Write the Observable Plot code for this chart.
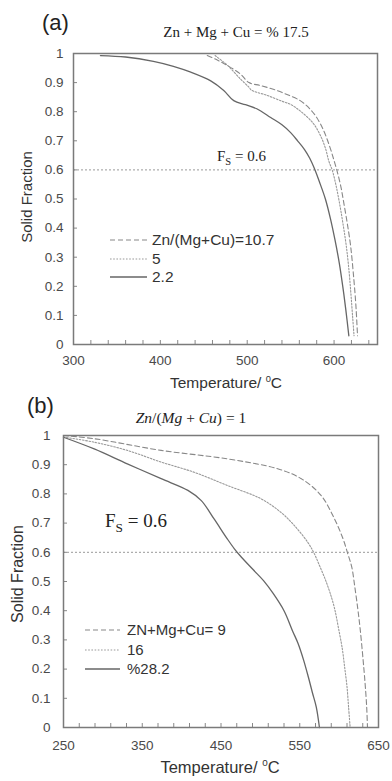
<!DOCTYPE html>
<html><head><meta charset="utf-8">
<script src="https://cdn.jsdelivr.net/npm/d3@7"></script>
<script src="https://cdn.jsdelivr.net/npm/@observablehq/plot@0.6"></script>
<style>
body{margin:0;background:#fff;}
#wrap{position:relative;width:392px;height:781px;overflow:hidden;background:#fff;font-family:"Liberation Sans",Arial,sans-serif;color:#333;}
.abs{position:absolute;white-space:nowrap;line-height:1.15;}
.serif{font-family:"Liberation Serif","DejaVu Serif",serif;}
</style></head><body><div id="wrap"></div>
<script>
// ---------- data: panel (a)  Zn+Mg+Cu = %17.5 ----------
const panelATitle = "Zn + Mg + Cu = % 17.5";
const legendA = ["Zn/(Mg+Cu)=10.7", "5", "2.2"];
const aDashT = [454, 466, 477, 492, 502, 515, 530, 545, 561, 572, 580, 588, 595, 600, 604, 608, 611, 615, 619, 622, 625, 627];
const aDashF = [0.993, 0.977, 0.959, 0.93, 0.90, 0.89, 0.877, 0.86, 0.838, 0.81, 0.78, 0.735, 0.68, 0.632, 0.59, 0.54, 0.49, 0.42, 0.34, 0.25, 0.14, 0.03];
const aDotT = [463, 477, 492, 502, 505, 523, 540, 550, 562, 576, 584, 590, 594, 598, 602, 606, 610, 614, 617, 619.5, 621.5, 623];
const aDotF = [0.993, 0.96, 0.913, 0.884, 0.874, 0.856, 0.836, 0.825, 0.8, 0.76, 0.72, 0.675, 0.63, 0.598, 0.55, 0.49, 0.42, 0.34, 0.26, 0.17, 0.09, 0.03];
const aSolT = [331, 360, 392, 415, 435, 458, 473, 484.5, 498, 511, 527, 540, 550, 558, 566, 572, 577, 583, 590, 596, 601, 606, 610, 613.5, 617];
const aSolF = [0.993, 0.988, 0.973, 0.956, 0.936, 0.906, 0.873, 0.838, 0.824, 0.81, 0.78, 0.755, 0.728, 0.70, 0.67, 0.64, 0.607, 0.56, 0.50, 0.43, 0.36, 0.28, 0.20, 0.12, 0.03];
const aXTicks = [300, 400, 500, 600];
const aXMinor = d3.range(300, 651, 20);

// ---------- data: panel (b)  Zn/(Mg+Cu) = 1 ----------
const legendB = ["ZN+Mg+Cu= 9", "16", "%28.2"];
const bDashT = [250, 289, 374, 458, 522, 552, 577, 594, 605, 611, 616, 620, 624, 627, 630.5, 633, 635, 636];
const bDashF = [1.0, 0.989, 0.949, 0.920, 0.886, 0.852, 0.795, 0.715, 0.646, 0.595, 0.55, 0.48, 0.40, 0.33, 0.23, 0.15, 0.07, 0.0];
const bDotT = [250, 289, 331, 374, 416, 458, 501, 526, 543, 560, 568, 575, 582, 588, 594, 599, 604, 607, 610, 612, 614];
const bDotF = [0.995, 0.977, 0.949, 0.909, 0.874, 0.829, 0.783, 0.737, 0.692, 0.635, 0.598, 0.555, 0.51, 0.465, 0.41, 0.343, 0.27, 0.207, 0.14, 0.07, 0.0];
const bSolT = [250, 289, 331, 374, 408, 425, 441, 458, 467, 476, 491, 504, 516, 530, 541, 548, 555, 561, 566, 571, 575];
const bSolF = [0.994, 0.954, 0.903, 0.852, 0.812, 0.777, 0.715, 0.646, 0.612, 0.583, 0.54, 0.503, 0.46, 0.40, 0.33, 0.287, 0.23, 0.172, 0.12, 0.07, 0.0];
const bXTicks = [250, 350, 450, 550, 650];
const bXMinor = d3.range(250, 651, 20);

const yTicks = [0, 0.1, 0.2, 0.3, 0.4, 0.5, 0.6, 0.7, 0.8, 0.9, 1];
const FS = 0.6;

// ---------- styles ----------
const STY = {
  dash: {stroke: "#888", strokeWidth: 1.1, strokeDasharray: "5,3"},
  dot:  {stroke: "#999", strokeWidth: 1.1, strokeDasharray: "1.6,1.6"},
  sol:  {stroke: "#666", strokeWidth: 1.3}
};

const rows = (T, F) => T.map((t, i) => ({t, f: F[i]}));

function panel({xDomain, xTicks, xMinor, series, height, margins, xPad, yPad}) {
  return Plot.plot({
    width: 392, height,
    marginTop: margins[0], marginRight: margins[1], marginBottom: margins[2], marginLeft: margins[3],
    style: {fontFamily: "'Liberation Sans', Arial, sans-serif", fontSize: "13.5px", color: "#4a4a4a", background: "transparent", overflow: "visible"},
    x: {domain: xDomain},
    y: {domain: [0, 1]},
    marks: [
      Plot.ruleY([FS], {stroke: "#999", strokeWidth: 1, strokeDasharray: "2,2"}),
      ...series.map(([T, F, s]) => Plot.line(rows(T, F), {x: "t", y: "f", curve: "catmull-rom", ...STY[s]})),
      Plot.axisX({ticks: xMinor, tickSize: 4, dy: -4, tickFormat: () => "", label: null, stroke: "#888"}),
      Plot.axisY({ticks: yTicks, tickSize: 4, dx: 4, tickFormat: () => "", label: null, stroke: "#888"}),
      Plot.axisX({ticks: xTicks, tickSize: 0, tickPadding: xPad, label: null, tickFormat: d => String(d)}),
      Plot.axisY({ticks: yTicks, tickSize: 0, tickPadding: yPad, label: null, tickFormat: d => String(+d.toFixed(1))}),
      Plot.frame({stroke: "#7a7a7a", strokeWidth: 1.5})
    ]
  });
}

const wrap = document.getElementById("wrap");

const chartA = panel({
  xDomain: [300, 650], xTicks: aXTicks, xMinor: aXMinor, height: 390,
  margins: [53, 15, 46, 73], xPad: 11, yPad: 10,
  series: [[aDashT, aDashF, "dash"], [aDotT, aDotF, "dot"], [aSolT, aSolF, "sol"]]
});
chartA.style.position = "absolute"; chartA.style.left = "0px"; chartA.style.top = "0px";
wrap.appendChild(chartA);

const chartB = panel({
  xDomain: [250, 650], xTicks: bXTicks, xMinor: bXMinor, height: 391,
  margins: [45, 14, 54, 63], xPad: 13, yPad: 13,
  series: [[bDashT, bDashF, "dash"], [bDotT, bDotF, "dot"], [bSolT, bSolF, "sol"]]
});
chartB.style.position = "absolute"; chartB.style.left = "0px"; chartB.style.top = "390px";
wrap.appendChild(chartB);

// ---------- text overlays ----------
function txt(html, x, y, {size = 14, anchor = "middle", cls = "", color = "#333", rotate = 0} = {}) {
  const d = document.createElement("div");
  d.className = "abs " + cls;
  d.innerHTML = html;
  d.style.fontSize = size + "px";
  d.style.color = color;
  d.style.left = x + "px";
  d.style.top = y + "px";
  const tx = anchor === "middle" ? "-50%" : "0";
  d.style.transform = `translate(${tx},-50%)` + (rotate ? ` rotate(${rotate}deg)` : "");
  wrap.appendChild(d);
  return d;
}
function legendLine(x1, x2, y, s) {
  const st = STY[s];
  const ns = "http://www.w3.org/2000/svg";
  const svg = document.createElementNS(ns, "svg");
  svg.setAttribute("width", x2 - x1); svg.setAttribute("height", 6);
  svg.style.position = "absolute"; svg.style.left = x1 + "px"; svg.style.top = (y - 3) + "px";
  const l = document.createElementNS(ns, "line");
  l.setAttribute("x1", 0); l.setAttribute("x2", x2 - x1); l.setAttribute("y1", 3); l.setAttribute("y2", 3);
  l.setAttribute("stroke", st.stroke); l.setAttribute("stroke-width", st.strokeWidth);
  if (st.strokeDasharray) l.setAttribute("stroke-dasharray", st.strokeDasharray);
  svg.appendChild(l);
  wrap.appendChild(svg);
}

// panel (a)
txt("(a)", 42, 23, {size: 22, anchor: "start", color: "#222"});
txt(panelATitle, 236, 33, {size: 15, cls: "serif", color: "#222"});
txt("Solid Fraction", 27, 197, {size: 15, rotate: -90});
txt("Temperature/ <sup style='font-size:0.6em'>0</sup>C", 226, 383, {size: 15.5});
txt("F<sub style='font-size:0.7em'>S</sub> = " + FS, 217, 158, {size: 15, anchor: "start", cls: "serif", color: "#222"});
["dash", "dot", "sol"].forEach((s, i) => {
  const y = [240, 259, 277][i];
  legendLine(110, 147, y, s);
  txt(legendA[i], 152, y, {size: 15.5, anchor: "start", color: "#333"});
});

// panel (b)
txt("(b)", 27, 406, {size: 22, anchor: "start", color: "#222"});
txt("<i>Zn</i>/(<i>Mg</i> + <i>Cu</i>) = 1", 191, 418, {size: 15.5, cls: "serif", color: "#222"});
txt("Solid Fraction", 18, 574, {size: 16, rotate: -90});
txt("Temperature/ <sup style='font-size:0.6em'>0</sup>C", 220, 767, {size: 16.5});
txt("F<sub style='font-size:0.7em'>S</sub> = " + FS, 105, 523, {size: 19, anchor: "start", cls: "serif", color: "#222"});
["dash", "dot", "sol"].forEach((s, i) => {
  const y = [630, 650, 669][i];
  legendLine(85, 120, y, s);
  txt(legendB[i], 127, y, {size: 15, anchor: "start", color: "#333"});
});
</script></body></html>
